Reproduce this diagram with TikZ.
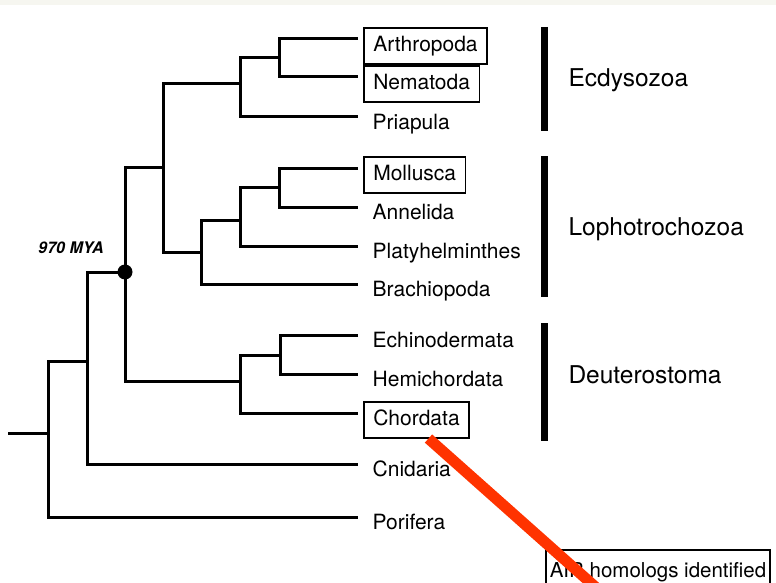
\documentclass[tikz,border=0pt]{standalone}
\usepackage{fontspec}
\setmainfont{TeX Gyre Heros}
\usepackage{tikz}
\usetikzlibrary{positioning}
\definecolor{bandgray}{RGB}{246,246,240}
\definecolor{markred}{RGB}{255,51,0}

\begin{document}
\begin{tikzpicture}[x=1pt,y=-1pt,
  branch/.style={line width=3pt},
  taxon/.style={anchor=west, font=\fontsize{21}{25}\selectfont,
    text height=15pt, text depth=4.5pt, inner xsep=9.5pt, inner ysep=8pt},
  boxed/.style={draw, line width=1.6pt},
  clade/.style={anchor=base west, font=\fontsize{24.5}{29}\selectfont},
  cladebar/.style={line width=7pt}]
  \useasboundingbox (0,0) rectangle (776,583);
  \clip (0,0) rectangle (776,583);
  % Top band
  \fill[bandgray] (0,0) rectangle (776,5);
  % Leaves
  \node[taxon, boxed] (ar) at (363,46) {Arthropoda};
  \node[taxon, boxed] (ne) at (363,84) {Nematoda};
  \node[taxon] (pr) at (363,124) {Priapula};
  \node[taxon, boxed] (mo) at (363,175) {Mollusca};
  \node[taxon] (an) at (363,214) {Annelida};
  \node[taxon] (pl) at (363,253) {Platyhelminthes};
  \node[taxon] (br) at (363,291) {Brachiopoda};
  \node[taxon] (ec) at (363,342) {Echinodermata};
  \node[taxon] (he) at (363,381) {Hemichordata};
  \node[taxon, boxed] (ch) at (363,420) {Chordata};
  \node[taxon] (cn) at (363,471) {Cnidaria};
  \node[taxon] (po) at (363,524) {Porifera};
  % Internal nodes
  \coordinate (e1) at (279,58);
  \coordinate (e2) at (240,84);
  \coordinate (l1) at (279,187);
  \coordinate (l2) at (240,220);
  \coordinate (l3) at (201,252);
  \coordinate (proto) at (163,167);
  \coordinate (d1) at (280,355);
  \coordinate (d2) at (240,381);
  \coordinate (bil) at (125,272);
  \coordinate (m1) at (87,361);
  \coordinate (root) at (48,433);
  \coordinate (base) at (8,433);
  % Ecdysozoa
  \draw[branch] ([shift={(-5pt,7pt)}]ar.west) -| (e1) |- ([shift={(-5pt,7pt)}]ne.west);
  \draw[branch] (e1) -| (e2) |- ([shift={(-5pt,7pt)}]pr.west);
  % Lophotrochozoa
  \draw[branch] ([shift={(-5pt,7pt)}]mo.west) -| (l1) |- ([shift={(-5pt,7pt)}]an.west);
  \draw[branch] (l1) -| (l2) |- ([shift={(-5pt,7pt)}]pl.west);
  \draw[branch] (l2) -| (l3) |- ([shift={(-5pt,7pt)}]br.west);
  \draw[branch] (e2) -| (proto) |- (l3);
  % Deuterostoma
  \draw[branch] ([shift={(-5pt,7pt)}]ec.west) -| (d1) |- ([shift={(-5pt,7pt)}]he.west);
  \draw[branch] (d1) -| (d2) |- ([shift={(-5pt,7pt)}]ch.west);
  \draw[branch] (proto) -| (bil) |- (d2);
  % Basal branches
  \draw[branch] (bil) -| (m1) |- ([shift={(-5pt,7pt)}]cn.west);
  \draw[branch] (m1) -| (root) |- ([shift={(-5pt,7pt)}]po.west);
  \draw[branch] (root) -- (base);
  % Bilateria node
  \fill (bil) circle (7.5pt);
  \node[anchor=base, font=\fontsize{16}{19}\selectfont\bfseries\itshape] (mya) at (71,253) {970 MYA};
  % Clade bars
  \draw[cladebar] (544,27) -- (544,131);
  \draw[cladebar] (544,156) -- (544,297);
  \draw[cladebar] (544,323) -- (544,441);
  \node[clade] (ecd) at (565,87) {Ecdysozoa};
  \node[clade] (lop) at (565,235) {Lophotrochozoa};
  \node[clade] (deu) at (565,383) {Deuterostoma};
  % Legend box
  \node[boxed, anchor=north west, font=\fontsize{20.5}{24}\selectfont,
    text height=15pt, text depth=4.5pt, inner xsep=4pt, inner ysep=12.5pt]
    (air) at (545,549) {AIR homologs identified};
  % Red marker
  \coordinate (redend) at (610,600);
  \draw[markred, line width=11pt] ([xshift=12pt]ch.south) -- (redend);
\end{tikzpicture}
\end{document}
